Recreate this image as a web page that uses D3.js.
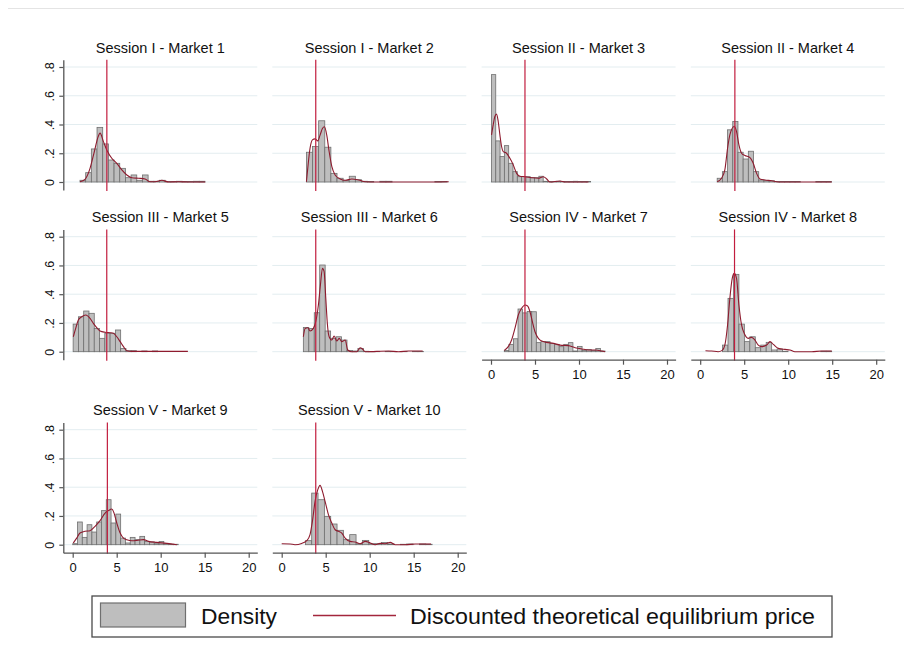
<!DOCTYPE html>
<html><head><meta charset="utf-8">
<script src="https://cdn.jsdelivr.net/npm/d3@7"></script>
<style>body{margin:0;background:#fff}svg{display:block}text{font-family:"Liberation Sans",Arial,sans-serif;fill:#111}</style>
</head><body><svg id="c" width="904" height="659"></svg>
<script>
const titles = ["Session I - Market 1","Session I - Market 2","Session II - Market 3","Session II - Market 4",
  "Session III - Market 5","Session III - Market 6","Session IV - Market 7","Session IV - Market 8",
  "Session V - Market 9","Session V - Market 10"];
const eqPrice = [3.88, 3.87, 3.86, 3.94, 3.87, 3.87, 3.86, 3.90, 3.94, 3.87];
const binStart = [0.83, 2.81, 0.05, 1.93, 0.05, 2.46, 1.51, 2.54, 0.0, 2.69];
const binWidth = [0.645, 0.695, 0.49, 0.59, 0.6, 0.62, 0.52, 0.62, 0.545, 0.72];
const hist1 = [0.012,0.065,0.23,0.38,0.265,0.153,0.13,0.095,0.03,0.049,0.012,0.049,0.005,0.005,0.012,0.003,0.003,0.005,0.003,0.003,0.005,0.005];
const hist2 = [0.207,0.247,0.426,0.242,0.06,0.026,0.01,0.04,0.016,0.005,0.003,0,0.005,0.005,0,0,0,0,0,0,0,0.004,0.004];
const hist3 = [0.747,0.286,0.177,0.253,0.13,0.072,0.037,0.037,0.037,0.03,0.03,0.04,0.005,0.003,0.003,0.005,0.003,0.003,0.003,0.005,0.003,0.003,0.003];
const hist4 = [0.026,0.072,0.363,0.421,0.207,0.16,0.214,0.072,0.014,0.009,0.009,0.003,0.003,0.003,0.003,0.003,0,0,0,0.003,0.003,0.003];
const hist5 = [0.192,0.243,0.283,0.267,0.162,0.093,0.128,0.128,0.151,0.023,0.007,0.007,0,0.005,0,0.005,0,0,0,0,0,0];
const hist6 = [0.169,0.162,0.271,0.603,0.144,0.093,0.104,0.081,0.009,0.005,0.023,0.003,0.002,0.002,0,0.002,0.002,0,0.002,0,0.002,0.002];
const hist7 = [0.009,0.051,0.09,0.297,0.27,0.28,0.278,0.063,0.07,0.07,0.058,0.051,0.035,0.051,0.063,0.005,0.037,0.009,0.016,0.009,0.023,0.005];
const hist8 = [0.046,0.371,0.538,0.192,0.07,0.104,0.028,0.046,0.065,0.012,0.019,0.003,0,0,0,0,0,0,0.003,0.003];
const hist9 = [0.007,0.158,0.051,0.139,0.088,0.158,0.237,0.313,0.151,0.213,0.046,0.012,0.051,0.035,0.058,0.023,0.019,0.007,0.023,0.007,0.003,0.003];
const hist10 = [0.028,0.359,0.313,0.197,0.144,0.1,0.035,0.07,0.007,0.03,0.007,0.007,0.016,0.005,0,0.003,0.005,0,0.005,0.003];

const kde1 = [[0.83,0.002],[1.40,0.019],[1.97,0.095],[2.46,0.212],[2.84,0.305],[3.11,0.34],[3.49,0.281],[3.87,0.223],[4.44,0.165],[5.01,0.13],[5.58,0.084],[6.15,0.049],[6.72,0.03],[7.48,0.026],[8.23,0.021],[8.80,0.002],[9.37,0.002],[10.13,0.012],[10.89,0],[12.03,0.002],[13.17,0],[15.07,0]];
const kde2 = [[2.81,0.002],[2.96,0.095],[3.22,0.235],[3.49,0.293],[3.79,0.3],[4.10,0.286],[4.36,0.326],[4.63,0.372],[4.86,0.384],[5.12,0.326],[5.39,0.212],[5.70,0.107],[6.07,0.049],[6.64,0.021],[7.21,0.012],[7.97,0.021],[8.73,0.014],[9.49,0.002],[10.63,0],[13.28,0],[17.08,0],[18.98,0.002]];
const kde3 = [[0.06,0.328],[0.25,0.398],[0.44,0.456],[0.63,0.472],[0.82,0.421],[1.01,0.328],[1.20,0.247],[1.39,0.212],[1.77,0.2],[2.15,0.165],[2.53,0.119],[2.91,0.06],[3.29,0.04],[3.86,0.037],[4.62,0.03],[5.38,0.026],[5.95,0.037],[6.33,0.021],[6.71,0],[7.85,0.007],[8.42,0],[11.07,0]];
const kde4 = [[1.93,0.002],[2.42,0.026],[2.80,0.084],[3.11,0.235],[3.37,0.328],[3.86,0.386],[4.13,0.351],[4.40,0.258],[4.70,0.2],[5.08,0.184],[5.65,0.17],[6.03,0.13],[6.41,0.06],[6.79,0.021],[7.36,0.014],[8.12,0.009],[8.88,0],[14.95,0]];
const kde5 = [[0.07,0.104],[0.34,0.162],[0.64,0.22],[1.02,0.243],[1.48,0.255],[1.97,0.232],[2.35,0.197],[2.73,0.167],[3.11,0.144],[3.68,0.135],[4.25,0.132],[4.63,0.128],[5.01,0.104],[5.39,0.07],[5.77,0.035],[6.15,0.007],[6.72,0.002],[13.09,0.002]];
const kde6 = [[2.46,0.104],[2.66,0.162],[2.96,0.167],[3.22,0.144],[3.60,0.162],[3.87,0.209],[4.17,0.325],[4.40,0.464],[4.63,0.58],[4.82,0.557],[5.01,0.371],[5.20,0.186],[5.39,0.104],[5.69,0.081],[5.96,0.109],[6.26,0.074],[6.53,0.093],[6.83,0.07],[7.21,0.081],[7.51,0.012],[7.97,0],[8.54,0],[8.92,0.028],[9.18,0.019],[9.49,0],[12.14,0.005],[13.28,0],[14.42,0.005],[16.02,0.005]];
const kde7 = [[1.51,0.009],[1.96,0.035],[2.34,0.081],[2.72,0.162],[3.10,0.255],[3.48,0.302],[3.86,0.325],[4.16,0.318],[4.43,0.278],[4.70,0.209],[5.00,0.139],[5.38,0.093],[5.76,0.074],[6.33,0.065],[7.09,0.058],[7.85,0.046],[8.80,0.042],[9.56,0.028],[10.32,0.019],[11.07,0.012],[11.83,0.012],[12.59,0.005],[12.97,0]];
const kde8 = [[0.6,0.007],[1.28,0.005],[2.04,0],[2.50,0.009],[2.80,0.046],[3.11,0.186],[3.37,0.371],[3.64,0.51],[3.87,0.545],[4.13,0.51],[4.40,0.325],[4.70,0.186],[5.00,0.128],[5.46,0.093],[5.84,0.1],[6.22,0.081],[6.60,0.046],[6.98,0.035],[7.55,0.046],[7.93,0.07],[8.31,0.051],[8.88,0.023],[9.63,0.016],[10.20,0.012],[10.77,0],[12.67,0],[13.81,0.005],[14.95,0.005]];
const kde9 = [[0.07,0.012],[0.45,0.046],[0.83,0.081],[1.40,0.093],[1.97,0.097],[2.54,0.128],[3.11,0.167],[3.68,0.22],[4.06,0.237],[4.44,0.248],[4.70,0.22],[5.01,0.151],[5.39,0.081],[5.77,0.046],[6.15,0.035],[6.72,0.028],[7.29,0.03],[8.05,0.035],[8.61,0.023],[9.56,0.016],[10.70,0.009],[11.84,0]];
const kde10 = [[0,0.007],[0.95,0.005],[1.51,0],[2.27,0.009],[2.84,0.028],[3.22,0.07],[3.49,0.162],[3.79,0.302],[4.10,0.383],[4.36,0.413],[4.63,0.371],[4.93,0.302],[5.31,0.209],[5.69,0.151],[6.07,0.104],[6.45,0.093],[6.83,0.081],[7.21,0.046],[7.78,0.023],[8.35,0.019],[8.92,0.007],[9.49,0.023],[10.06,0.012],[10.63,0],[11.19,0.009],[11.76,0.007],[12.33,0.016],[12.90,0],[14.04,0],[15.18,0.005],[16.97,0.005]];

const xTicks = [0,5,10,15,20];
const yTicks = [0,0.2,0.4,0.6,0.8];
const yTickLabels = ["0",".2",".4",".6",".8"];
const legendLabels = ["Density","Discounted theoretical equilibrium price"];

const hists = [hist1,hist2,hist3,hist4,hist5,hist6,hist7,hist8,hist9,hist10];
const kdes = [kde1,kde2,kde3,kde4,kde5,kde6,kde7,kde8,kde9,kde10];

const svg = d3.select("#c");
svg.append("line").attr("x1",8).attr("x2",904).attr("y1",8.5).attr("y2",8.5).attr("stroke","#e4e4e4").attr("stroke-width",1);

const colLeft = [63.3, 272.3, 481.6, 690.8];
const plotW = 194;
const rowZero = [182, 351.7, 544.7];
const pxPerUnitY = 143.75, pxPerUnitX = 8.8, xOff = 9.4;
const xAxisPanels = [6,7,8,9];

hists.forEach((h, i) => {
  const col = i % 4, row = Math.floor(i / 4);
  const L = colLeft[col];
  const bottom = rowZero[row] + 8, top = rowZero[row] - 122.3;
  const x = d3.scaleLinear().domain([-xOff/pxPerUnitX, (plotW - xOff)/pxPerUnitX]).range([L, L + plotW]);
  const y = d3.scaleLinear().domain([-8/pxPerUnitY, 122.3/pxPerUnitY]).range([bottom, top]);
  const g = svg.append("g");
  g.selectAll("line.grid").data(yTicks).join("line").attr("class","grid")
    .attr("x1", L).attr("x2", L + plotW).attr("y1", d => y(d)).attr("y2", d => y(d))
    .attr("stroke", "#e3edf0").attr("stroke-width", 1);
  const bars = h.map((v, j) => ({v, x0: binStart[i] + j*binWidth[i]})).filter(d => d.v > 0);
  g.selectAll("rect.bar").data(bars).join("rect").attr("class","bar")
    .attr("x", d => x(d.x0)).attr("width", x(binWidth[i]) - x(0))
    .attr("y", d => y(d.v)).attr("height", d => y(0) - y(d.v))
    .attr("fill", "#bebebe").attr("stroke", "#6f6f6f").attr("stroke-width", 0.8);
  const line = d3.line().x(d => x(d[0])).y(d => y(d[1])).curve(d3.curveMonotoneX);
  g.append("path").attr("d", line(kdes[i])).attr("fill","none").attr("stroke","#8e1b2e").attr("stroke-width",1.1);
  g.append("line").attr("x1", x(eqPrice[i])).attr("x2", x(eqPrice[i])).attr("y1", top).attr("y2", bottom + 1)
    .attr("stroke", "#c21d3e").attr("stroke-width", 1.2);
  g.append("text").attr("x", L + plotW/2).attr("y", top - 7).attr("text-anchor","middle")
    .style("font-size","14.5px").text(titles[i]);
  if (col === 0) {
    const ay = g.append("g").attr("transform", `translate(${L},0)`)
      .call(d3.axisLeft(y).tickValues(yTicks).tickFormat((d, k) => yTickLabels[k]).tickSize(4).tickSizeOuter(0));
    ay.select(".domain").attr("stroke","#555").attr("stroke-width",1.3);
    ay.selectAll(".tick line").attr("stroke","#555").attr("stroke-width",1.2);
    ay.selectAll(".tick text").attr("x",0).attr("y",-9.5).attr("dy",0).attr("text-anchor","middle")
      .attr("transform","rotate(-90)").style("font-size","12.5px").style("font-family","'Liberation Sans',Arial,sans-serif").attr("fill","#111");
  }
  if (xAxisPanels.includes(i)) {
    const ax = g.append("g").attr("transform", `translate(0,${bottom})`)
      .call(d3.axisBottom(x).tickValues(xTicks).tickSize(5).tickSizeOuter(0));
    ax.select(".domain").attr("stroke","#555").attr("stroke-width",1.3);
    ax.selectAll(".tick line").attr("stroke","#555").attr("stroke-width",1.2);
    ax.selectAll(".tick text").attr("y",19).attr("dy",0).style("font-size","13px")
      .style("font-family","'Liberation Sans',Arial,sans-serif").attr("fill","#111");
  }
});

// legend
const lg = svg.append("g");
lg.append("rect").attr("x",92).attr("y",596).attr("width",740).attr("height",41).attr("fill","#fff").attr("stroke","#4a4a4a").attr("stroke-width",1.3);
lg.append("rect").attr("x",100.5).attr("y",603).attr("width",85).attr("height",24).attr("fill","#bebebe").attr("stroke","#6f6f6f").attr("stroke-width",1.2);
lg.append("text").attr("x",201).attr("y",624).style("font-size","22.5px")
  .attr("textLength",76).attr("lengthAdjust","spacingAndGlyphs").text(legendLabels[0]);
lg.append("line").attr("x1",313).attr("x2",396).attr("y1",615.5).attr("y2",615.5).attr("stroke","#a3263c").attr("stroke-width",1.4);
lg.append("text").attr("x",410).attr("y",624).style("font-size","22.5px")
  .attr("textLength",405).attr("lengthAdjust","spacingAndGlyphs").text(legendLabels[1]);
</script></body></html>
